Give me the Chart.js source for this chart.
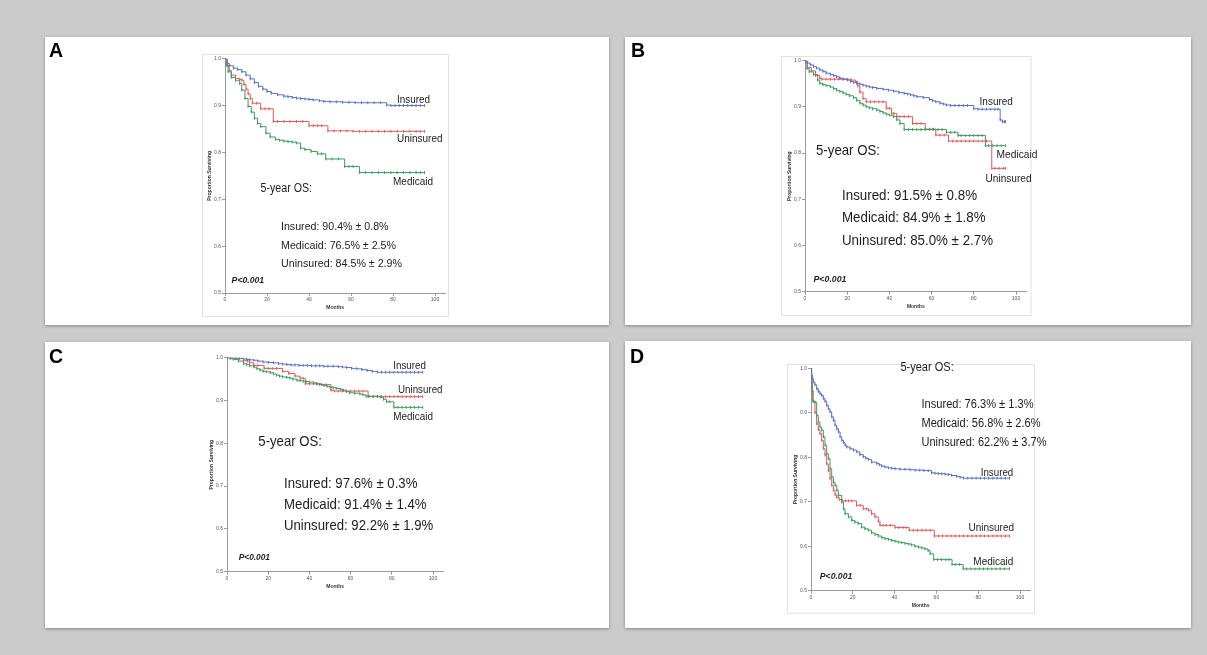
<!DOCTYPE html>
<html>
<head>
<meta charset="utf-8">
<script src="https://cdn.jsdelivr.net/npm/chart.js@4.4.1/dist/chart.umd.min.js"></script>
<style>
    html, body { margin: 0; padding: 0; background: #cbcbcb; }
    body { width: 1207px; height: 655px; position: relative; overflow: hidden; }
    .card { position: absolute; background: #fff; box-shadow: 0 1px 3px rgba(0, 0, 0, 0.35); }
    .card canvas { position: absolute; left: 0; top: 0; }
</style>
</head>
<body>
<div class="card" style="left:45px;top:37px;width:564px;height:288px"><canvas id="chartA" width="564" height="288"></canvas></div>
<div class="card" style="left:625px;top:37px;width:566px;height:288px"><canvas id="chartB" width="566" height="288"></canvas></div>
<div class="card" style="left:45px;top:342px;width:564px;height:286px"><canvas id="chartC" width="564" height="286"></canvas></div>
<div class="card" style="left:625px;top:341px;width:566px;height:287px"><canvas id="chartD" width="566" height="287"></canvas></div>
<script>
(function() {

    // groups in the order of the 5-year OS lines
    const groups = ["Insured", "Medicaid", "Uninsured"];
    const colors = ["#5b6fc7", "#3d9c5e", "#e2595d"];

    const yTicks = [0.5, 0.6, 0.7, 0.8, 0.9, 1.0];
    const xTicks = [0, 20, 40, 60, 80, 100];

    // 5-year OS (%) and standard error, per panel, same order as groups
    const osA = [90.4, 76.5, 84.5], seA = [0.8, 2.5, 2.9];
    const osB = [91.5, 84.9, 85.0], seB = [0.8, 1.8, 2.7];
    const osC = [97.6, 91.4, 92.2], seC = [0.3, 1.4, 1.9];
    const osD = [76.3, 56.8, 62.2], seD = [1.3, 2.6, 3.7];

    // Kaplan-Meier curves: [months, proportion surviving]
    const aInsured = [[0,1],[1,0.99],[2,0.985],[4,0.98],[6,0.977],[8,0.972],[10,0.965],[12,0.957],[14,0.949],[16,0.941],[18,0.935],[20,0.93],[22,0.926],[25,0.923],[28,0.92],[30,0.919],[32,0.917],[34,0.916],[36,0.915],[38,0.914],[40,0.913],[42,0.912],[45,0.91],[47,0.909],[50,0.908],[53,0.908],[56,0.907],[59,0.907],[62,0.906],[65,0.906],[68,0.906],[71,0.906],[74,0.906],[77,0.901],[79,0.9],[81,0.9],[83,0.9],[85,0.9],[87,0.9],[89,0.9],[91,0.9],[93,0.9],[95,0.9]];
    const aMedicaid = [[0,1],[0.5,0.985],[1.5,0.972],[3,0.96],[5,0.954],[7,0.947],[8,0.933],[9.5,0.915],[11,0.898],[12.5,0.886],[14,0.873],[15.5,0.862],[17,0.855],[19.5,0.841],[21.5,0.833],[24,0.828],[26,0.826],[28,0.824],[30,0.823],[32,0.822],[34,0.82],[36,0.809],[38,0.806],[41,0.802],[44,0.797],[46,0.797],[48,0.786],[51,0.786],[54,0.786],[57,0.77],[59,0.77],[61,0.77],[64,0.757],[67,0.757],[70,0.757],[73,0.757],[76,0.757],[79,0.757],[82,0.757],[85,0.757],[88,0.757],[91,0.757],[93,0.757],[95,0.757]];
    const aUninsured = [[0,1],[1,0.985],[2,0.975],[3,0.965],[5,0.958],[7,0.956],[8,0.954],[9,0.945],[10,0.935],[11,0.925],[12,0.915],[13,0.905],[15,0.905],[17,0.893],[19,0.893],[21,0.893],[23,0.866],[25,0.866],[28,0.866],[31,0.866],[34,0.866],[37,0.866],[40,0.857],[42,0.857],[44,0.857],[46,0.857],[49,0.846],[52,0.846],[55,0.846],[58,0.846],[61,0.845],[64,0.845],[67,0.845],[70,0.845],[73,0.845],[76,0.845],[79,0.845],[82,0.845],[85,0.845],[88,0.845],[91,0.845],[93,0.845],[95,0.845]];

    const bInsured = [[0,1],[1,0.995],[2.5,0.991],[4,0.987],[5.5,0.984],[7,0.98],[8.5,0.977],[10,0.973],[12,0.97],[13.5,0.968],[15,0.965],[16.5,0.962],[18,0.96],[20,0.958],[21.5,0.955],[23,0.953],[24.5,0.951],[26,0.949],[27.5,0.947],[29,0.945],[30.5,0.943],[32,0.942],[34,0.94],[37,0.938],[39.5,0.936],[42,0.934],[44.5,0.931],[47,0.929],[48.5,0.928],[50,0.926],[51.5,0.924],[53,0.922],[56,0.92],[59,0.916],[60.5,0.913],[62,0.911],[64,0.908],[65.5,0.906],[67,0.904],[69,0.903],[71,0.903],[73,0.903],[75,0.903],[77,0.903],[80,0.896],[82,0.895],[84,0.895],[86,0.895],[88,0.895],[90,0.895],[91.5,0.895],[92.5,0.872],[93.5,0.868],[94.5,0.868],[95,0.868]];
    const bMedicaid = [[0,1],[1,0.983],[2,0.976],[4,0.97],[6,0.958],[7,0.951],[8.5,0.948],[10,0.946],[12,0.943],[13.5,0.94],[15,0.936],[16.5,0.933],[18,0.93],[19.5,0.927],[21,0.924],[23,0.92],[24.5,0.914],[26,0.908],[27.5,0.904],[29,0.9],[30.5,0.898],[32,0.896],[34,0.893],[35.5,0.89],[37,0.887],[38.5,0.884],[40,0.882],[42,0.879],[43.5,0.872],[45,0.864],[47,0.851],[49,0.851],[51,0.851],[53,0.851],[55,0.851],[57,0.851],[59,0.851],[61,0.851],[63,0.851],[65,0.851],[67,0.845],[69,0.845],[71,0.845],[72.5,0.838],[74,0.838],[76,0.838],[78,0.838],[80,0.838],[82,0.838],[84,0.838],[85.5,0.816],[87,0.816],[89,0.816],[91,0.816],[93,0.816],[95,0.816]];
    const bUninsured = [[0,1],[1,0.985],[3,0.978],[5,0.968],[7,0.962],[8,0.96],[10,0.96],[12,0.96],[14,0.96],[16,0.96],[18,0.96],[20,0.96],[22,0.958],[24,0.955],[25,0.945],[26,0.932],[27.5,0.918],[29,0.911],[31,0.911],[33,0.911],[35,0.911],[37,0.911],[38.5,0.897],[40,0.897],[41,0.886],[42,0.886],[43.5,0.879],[45,0.879],[47,0.879],[49,0.879],[51,0.864],[53,0.864],[55,0.864],[57,0.852],[59,0.852],[60.5,0.852],[62,0.839],[64,0.839],[66,0.839],[68,0.826],[70,0.826],[72,0.826],[74,0.826],[76,0.826],[78,0.826],[80,0.826],[82,0.826],[84,0.826],[86,0.826],[88.5,0.767],[90,0.767],[92,0.767],[94,0.767],[95,0.767]];

    const cInsured = [[0,1],[2,1],[4,1],[6,0.999],[8,0.997],[9.5,0.996],[11,0.995],[13,0.994],[15,0.992],[17.5,0.99],[20,0.989],[22.5,0.988],[25,0.986],[27,0.985],[29,0.984],[31,0.983],[33,0.983],[35,0.982],[37,0.982],[39,0.982],[41,0.981],[43,0.981],[45,0.981],[47,0.98],[49,0.98],[51.5,0.98],[54,0.979],[56,0.978],[58,0.977],[60.5,0.975],[63,0.974],[65.5,0.972],[68,0.97],[70.5,0.968],[73,0.966],[75,0.966],[77,0.966],[79,0.966],[81,0.966],[83,0.966],[85,0.966],[87,0.966],[89,0.966],[91,0.966],[93,0.966],[95,0.966]];
    const cMedicaid = [[0,1],[1.5,0.998],[3,0.996],[5.5,0.992],[8,0.986],[9.5,0.984],[11,0.981],[13,0.978],[14.5,0.974],[16,0.971],[17.5,0.968],[19,0.967],[21,0.965],[22.5,0.962],[24,0.959],[25.5,0.957],[27,0.955],[29,0.954],[30.5,0.952],[32,0.95],[34,0.947],[35.5,0.946],[37,0.945],[38.5,0.944],[40,0.943],[42,0.941],[43.5,0.939],[45,0.937],[47,0.935],[48.5,0.933],[50,0.931],[51.5,0.93],[53,0.928],[55,0.926],[56.5,0.924],[58,0.921],[59.5,0.918],[62,0.917],[64.5,0.915],[66,0.913],[67.5,0.91],[69,0.91],[71,0.91],[73,0.91],[74.5,0.908],[76,0.903],[77.5,0.897],[79,0.897],[81,0.884],[83,0.884],[85,0.884],[87,0.884],[89,0.884],[91,0.884],[93,0.884],[95,0.884]];
    const cUninsured = [[0,1],[2,1],[4,0.998],[6,0.998],[8,0.993],[10,0.992],[11,0.988],[13,0.982],[15,0.982],[18,0.975],[20,0.975],[22,0.975],[24,0.975],[27,0.968],[30,0.963],[33,0.957],[35.5,0.952],[37,0.952],[38,0.939],[40,0.939],[42,0.939],[44,0.939],[46,0.937],[48,0.937],[50.5,0.924],[52,0.922],[54,0.922],[56,0.922],[58,0.922],[60,0.922],[62,0.922],[64,0.922],[66,0.922],[68.5,0.909],[71,0.909],[73,0.909],[75,0.909],[77,0.909],[79,0.909],[81,0.909],[83,0.909],[85,0.909],[87,0.909],[89,0.909],[91,0.909],[93,0.909],[95,0.909]];

    const dInsured = [[0,1],[0.3,0.985],[0.6,0.977],[1.1,0.969],[1.9,0.963],[2.7,0.954],[3.5,0.948],[4.3,0.943],[5.1,0.939],[5.9,0.932],[6.7,0.926],[7.5,0.917],[8.3,0.909],[9.1,0.902],[9.9,0.891],[10.7,0.883],[11.5,0.872],[12.3,0.864],[13.1,0.857],[13.9,0.846],[14.7,0.838],[15.5,0.833],[16.3,0.827],[17.1,0.823],[18.7,0.819],[20.3,0.816],[21.9,0.812],[23.4,0.806],[25,0.801],[26.2,0.798],[27.4,0.795],[29,0.789],[31.4,0.786],[32.6,0.783],[33.8,0.78],[35.4,0.778],[37,0.776],[38.6,0.775],[40.2,0.774],[42.6,0.773],[45,0.773],[47.4,0.772],[49.8,0.771],[52,0.771],[54,0.77],[56.1,0.77],[57.7,0.765],[59.3,0.764],[60.9,0.763],[62.5,0.763],[64.1,0.762],[65.7,0.761],[67.3,0.759],[69.7,0.757],[71.3,0.755],[72.9,0.753],[75,0.753],[77,0.753],[79,0.753],[81,0.753],[83,0.753],[85,0.753],[87,0.753],[89,0.753],[91,0.753],[93,0.753],[95,0.753]];
    const dMedicaid = [[0,1],[0.3,0.96],[0.6,0.928],[1.2,0.926],[1.9,0.924],[2.7,0.894],[3.5,0.879],[4.3,0.868],[5.1,0.861],[5.9,0.846],[6.7,0.827],[7.5,0.808],[8.3,0.797],[9.1,0.774],[9.9,0.756],[10.7,0.744],[11.5,0.737],[12.3,0.726],[13.1,0.714],[14.7,0.699],[15.5,0.684],[16.3,0.673],[17.9,0.666],[19.5,0.658],[21,0.654],[22.6,0.651],[24.2,0.643],[25.8,0.639],[27.4,0.636],[29,0.63],[30.6,0.626],[32.2,0.623],[33.8,0.619],[35.4,0.617],[37,0.615],[38.6,0.613],[40.2,0.611],[41.8,0.609],[43.4,0.608],[45,0.606],[46.5,0.605],[48,0.603],[49.7,0.6],[51.4,0.598],[53,0.596],[54.5,0.594],[56,0.59],[57,0.583],[58.7,0.57],[60.5,0.57],[62.5,0.57],[64.5,0.57],[66,0.57],[67.5,0.559],[69,0.559],[71,0.559],[72.8,0.549],[74.5,0.549],[76.5,0.549],[78.5,0.549],[80.5,0.549],[82.5,0.549],[84.5,0.549],[86.5,0.549],[88.5,0.549],[90.5,0.549],[92.5,0.549],[95,0.549]];
    const dUninsured = [[0,1],[0.2,0.975],[0.6,0.95],[1.1,0.925],[1.9,0.9],[2.7,0.875],[3.5,0.862],[4.3,0.853],[5.1,0.838],[5.9,0.82],[6.7,0.805],[7.5,0.785],[8.3,0.77],[9.1,0.752],[9.9,0.737],[10.7,0.726],[11.5,0.716],[12.3,0.71],[13.5,0.705],[15,0.702],[16.5,0.702],[18,0.702],[19.5,0.702],[21.8,0.692],[23.5,0.692],[25,0.684],[26.5,0.684],[27.5,0.681],[29,0.673],[30.6,0.666],[32.2,0.656],[33,0.647],[34.5,0.647],[36,0.647],[38,0.647],[40.2,0.642],[42,0.642],[44,0.642],[45.5,0.642],[47,0.636],[49,0.636],[51,0.636],[53,0.636],[55,0.636],[57,0.636],[59,0.623],[61,0.623],[63,0.623],[65,0.623],[67,0.623],[69,0.623],[71,0.623],[73,0.623],[75,0.623],[77,0.623],[79,0.623],[81,0.623],[83,0.623],[85,0.623],[87,0.623],[89,0.623],[91,0.623],[93,0.623],[95,0.623]];

    const fontFamily = 'Arial, "Liberation Sans", Helvetica, sans-serif';

    // layout of each panel inside its card (pixels)
    const panels = [
        { id: "chartA", letter: ["A", 4, 13], curves: [aInsured, aMedicaid, aUninsured], os: osA, se: seA,
          x0: 180, x100: 390, y1: 21.7, y05: 256, box: [157, 17, 246, 262],
          labels: [[352, 62.3, 33], [348, 143.7, 40], [352, 100.7, 45.5]],
          title: [215.5, 150.7, 51.5, 12.5],
          stats: { x: 236, ys: [189, 207.7, 226.3], ws: [107.5, 115, 121], size: 11.5 },
          p: [186.6, 243, 32.6] },
        { id: "chartB", letter: ["B", 6, 13], curves: [bInsured, bMedicaid, bUninsured], os: osB, se: seB,
          x0: 180, x100: 391, y1: 23.7, y05: 254.7, box: [155.5, 19, 249.5, 259],
          labels: [[354.6, 64, 33.3], [371.6, 117, 40.7], [360.5, 141, 46]],
          title: [191, 112.3, 64, 15],
          stats: { x: 217, ys: [157.7, 180, 202.3], ws: [135, 143.5, 151], size: 14.5 },
          p: [188.5, 241.3, 33] },
        { id: "chartC", letter: ["C", 4, 14], curves: [cInsured, cMedicaid, cUninsured], os: osC, se: seC,
          x0: 182, x100: 388, y1: 15.7, y05: 229.7, box: null,
          labels: [[348.3, 23, 32.6], [348.3, 74.3, 39.7], [353, 47.3, 44.5]],
          title: [213.3, 99, 63.7, 15],
          stats: { x: 239, ys: [140.3, 161.7, 182.3], ws: [133.4, 142.6, 149.3], size: 14.5 },
          p: [193.7, 215, 31.3] },
        { id: "chartD", letter: ["D", 5, 15], curves: [dInsured, dMedicaid, dUninsured], os: osD, se: seD,
          x0: 186, x100: 395, y1: 27.3, y05: 249.7, box: [162, 23.3, 247, 248.7],
          labels: [[355.7, 130.7, 32.6], [348.3, 220, 40], [343.5, 186.3, 45.5]],
          title: [275.4, 25, 53.3, 12.5],
          stats: { x: 296.5, ys: [63, 82, 101], ws: [112, 119, 125], size: 12 },
          p: [194.8, 235, 32.5] }
    ];

    panels.forEach(drawPanel);

    function buildTexts(p) {
        let texts = [];
        texts.push({ text: p.letter[0], x: p.letter[1], cy: p.letter[2], size: 19.5, style: "bold", color: "#000" });
        groups.forEach((g, i) => {
            texts.push({ text: g, x: p.labels[i][0], cy: p.labels[i][1], w: p.labels[i][2], size: 11.5 });
            texts.push({
                text: g + ": " + p.os[i].toFixed(1) + "% \u00b1 " + p.se[i].toFixed(1) + "%",
                x: p.stats.x, cy: p.stats.ys[i], w: p.stats.ws[i], size: p.stats.size
            });
        });
        texts.push({ text: "5-year OS:", x: p.title[0], cy: p.title[1], w: p.title[2], size: p.title[3] });
        texts.push({ text: "P<0.001", x: p.p[0], cy: p.p[1], w: p.p[2], size: 9, style: "italic bold" });
        return texts;
    }

    function makeAnnotations(p) {
        let texts = buildTexts(p);
        return {
            id: "annotations",
            beforeDraw(chart) {
                if (!p.box) return;
                let ctx = chart.ctx;
                ctx.save();
                ctx.strokeStyle = "#e2e2e2";
                ctx.lineWidth = 1;
                ctx.strokeRect(Math.round(p.box[0]) + 0.5, Math.round(p.box[1]) + 0.5, p.box[2], p.box[3]);
                ctx.restore();
            },
            afterDraw(chart) {
                let ctx = chart.ctx;
                texts.forEach(t => {
                    ctx.save();
                    ctx.font = (t.style || "") + " " + t.size + "px " + fontFamily;
                    let sx = t.w ? t.w / ctx.measureText(t.text).width : 1;
                    ctx.translate(t.x, t.cy + t.size * 0.36);
                    ctx.scale(sx, 1);
                    ctx.fillStyle = t.color || "#1d1d1d";
                    ctx.textBaseline = "alphabetic";
                    ctx.fillText(t.text, 0, 0);
                    ctx.restore();
                });
            }
        };
    }

    function drawPanel(p) {
        let canvas = document.getElementById(p.id);
        let W = canvas.width, H = canvas.height;
        let yAxisWidth = 22, xAxisHeight = 18, xMax = 105;
        let right = p.x0 + (p.x100 - p.x0) * xMax / 100;

        new Chart(canvas, {
            type: "line",
            data: {
                datasets: p.curves.map((c, i) => ({
                    label: groups[i],
                    data: c.map(d => ({ x: d[0], y: d[1] })),
                    borderColor: colors[i],
                    borderWidth: 1,
                    stepped: "before",
                    fill: false,
                    // censoring ticks
                    pointStyle: "line",
                    pointRotation: 90,
                    pointRadius: 1.4,
                    pointBorderWidth: 1,
                    pointBorderColor: colors[i],
                    pointBackgroundColor: colors[i]
                }))
            },
            options: {
                responsive: false,
                animation: false,
                devicePixelRatio: 1,
                layout: {
                    autoPadding: false,
                    padding: { left: p.x0 - yAxisWidth, right: W - right, top: p.y1, bottom: H - p.y05 - xAxisHeight }
                },
                plugins: { legend: { display: false }, tooltip: { enabled: false } },
                scales: {
                    x: {
                        type: "linear", min: 0, max: xMax,
                        afterBuildTicks: s => { s.ticks = xTicks.map(v => ({ value: v })); },
                        afterFit: s => { s.height = xAxisHeight; },
                        ticks: { font: { size: 5, family: fontFamily }, color: "#555", padding: 1, maxRotation: 0, autoSkip: false },
                        grid: { drawOnChartArea: false, drawTicks: true, tickLength: 3, color: "#9a9a9a" },
                        border: { color: "#9a9a9a", width: 1 },
                        title: { display: true, text: "Months", color: "#333", font: { size: 5, weight: "bold", family: fontFamily }, padding: { top: 0, bottom: 0 } }
                    },
                    y: {
                        type: "linear", min: 0.5, max: 1.0,
                        afterBuildTicks: s => { s.ticks = yTicks.map(v => ({ value: v })); },
                        afterFit: s => { s.width = yAxisWidth; },
                        ticks: { callback: v => v.toFixed(1), font: { size: 5, family: fontFamily }, color: "#555", padding: 1, autoSkip: false },
                        grid: { drawOnChartArea: false, drawTicks: true, tickLength: 3, color: "#9a9a9a" },
                        border: { color: "#9a9a9a", width: 1 },
                        title: { display: true, text: "Proportion Surviving", color: "#333", font: { size: 5, weight: "bold", family: fontFamily }, padding: { top: 4, bottom: 0 } }
                    }
                }
            },
            plugins: [makeAnnotations(p)]
        });
    }

}());
</script>
</body>
</html>
